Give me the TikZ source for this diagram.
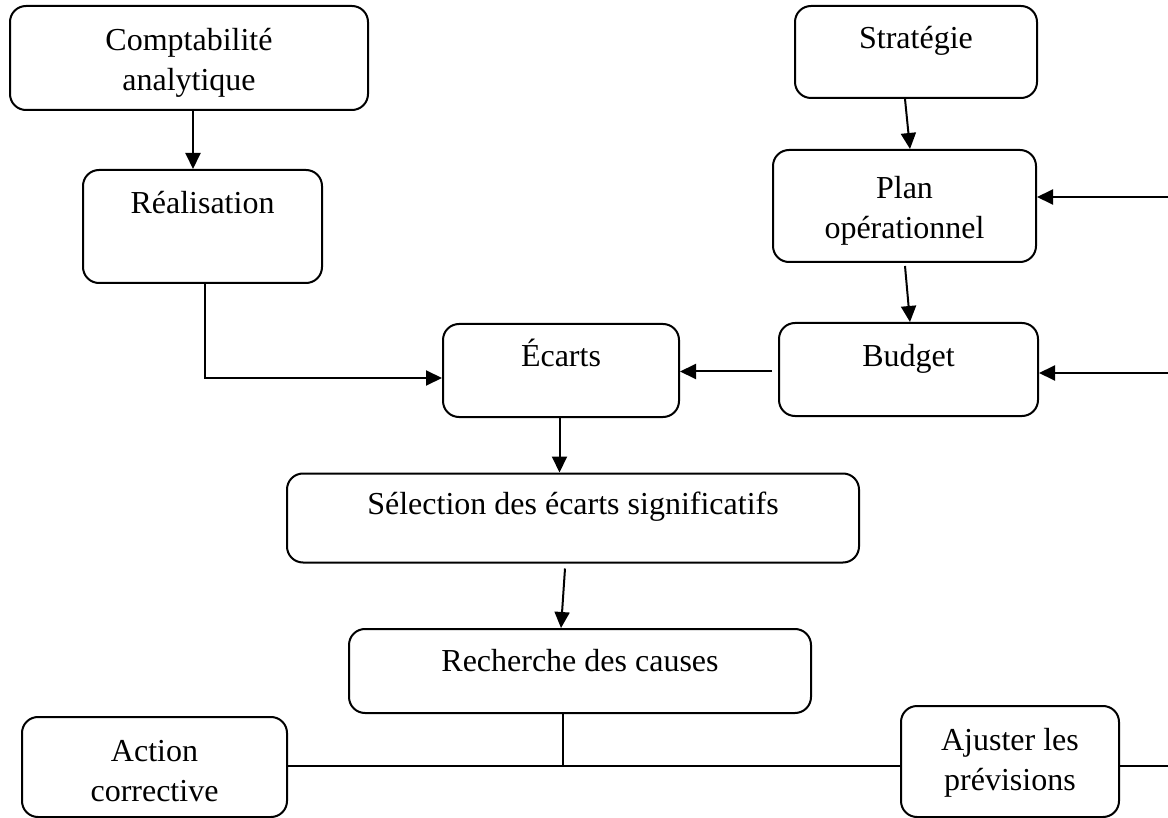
\documentclass[tikz,border=0pt]{standalone}
\usepackage{fontspec}
\setmainfont{Liberation Serif}
\usetikzlibrary{arrows.meta}
\begin{document}
\begin{tikzpicture}[x=1pt,y=-1pt,
  box/.style={draw,line width=2pt,rounded corners=16pt,inner sep=0pt},
  txt/.style={anchor=base,align=center,inner sep=0pt,font=\fontsize{32}{40}\selectfont},
  link/.style={line width=2pt},
  arr/.style={line width=2pt,-{Triangle[length=16pt,width=15pt]}}]
\useasboundingbox (0,0) rectangle (1168,818);
\fill[white] (0,0) rectangle (1168,818);

% boxes
\node[box,minimum width=358pt,minimum height=104pt] (ca) at (189,58) {};
\node[box,minimum width=239pt,minimum height=113pt] (real) at (202.5,226.5) {};
\node[box,minimum width=242pt,minimum height=92pt] (strat) at (916,52) {};
\node[box,minimum width=263pt,minimum height=112pt] (plan) at (904.5,206) {};
\node[box,minimum width=259pt,minimum height=93pt] (budget) at (908.5,369.5) {};
\node[box,minimum width=236pt,minimum height=93pt] (ecarts) at (561,370.5) {};
\node[box,minimum width=572pt,minimum height=89pt] (sel) at (573,518) {};
\node[box,minimum width=462pt,minimum height=84pt] (rech) at (580,671) {};
\node[box,minimum width=265pt,minimum height=100pt] (action) at (154.5,767) {};
\node[box,minimum width=218pt,minimum height=111pt] (ajust) at (1010,761.5) {};

% labels (the base anchor of a two-line label is its last baseline)
\node[txt] (cat) at ([yshift=-86pt]ca.north) {Comptabilité\\analytique};
\node[txt] (realt) at ([yshift=-45pt]real.north) {Réalisation};
\node[txt] (stratt) at ([yshift=-44pt]strat.north) {Stratégie};
\node[txt] (plant) at ([yshift=-90pt]plan.north) {Plan\\opérationnel};
\node[txt] (budgett) at ([yshift=-45pt]budget.north) {Budget};
\node[txt] (ecartst) at ([yshift=-44pt]ecarts.north) {Écarts};
\node[txt] (selt) at ([yshift=-42pt]sel.north) {Sélection des écarts significatifs};
\node[txt] (recht) at ([yshift=-43pt]rech.north) {Recherche des causes};
\node[txt] (actiont) at ([yshift=-85pt]action.north) {Action\\corrective};
\node[txt] (ajustt) at ([yshift=-85pt]ajust.north) {Ajuster les\\prévisions};

% arrows between boxes
\draw[arr] ([xshift=4pt]ca.south) -- ([xshift=4pt]ca.south |- real.north);
\draw[arr] ([xshift=-11pt]strat.south) -- ([xshift=5.5pt]plan.north);
\draw[arr] ([xshift=0.5pt,yshift=-3pt]plan.south) -- ([xshift=1.5pt]budget.north);
\draw[arr] ([xshift=2.5pt]real.south) |- ([yshift=-7.5pt]ecarts.west);
\draw[arr] ([xshift=-6pt,yshift=-2pt]budget.west) coordinate (b0) -- (b0 -| ecarts.east);
\draw[arr] ([xshift=-1.5pt]ecarts.south) -- ([xshift=-1.5pt]ecarts.south |- sel.north);
\draw[arr] ([xshift=-8pt,yshift=-5pt]sel.south) -- ([xshift=-12pt]sel.south |- rech.north);

% feedback arrows entering from the right
\coordinate (rp) at (1168,197);
\coordinate (rb) at (1168,373);
\draw[arr] (rp) -- (rp -| plan.east);
\draw[arr] (rb) -- (rb -| budget.east);

% lower branch
\coordinate (hline) at (563,766);
\coordinate (redge) at (1168,766);
\draw[link] (rech.south -| hline) -- (hline);
\draw[link] (action.east |- hline) -- (ajust.west |- hline);
\draw[link] (ajust.east |- hline) -- (redge);
\end{tikzpicture}
\end{document}
